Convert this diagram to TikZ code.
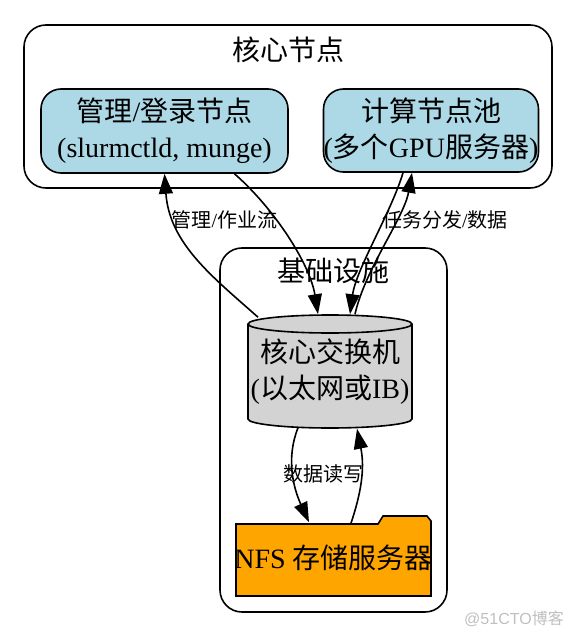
\documentclass[tikz,border=0pt]{standalone}
\usepackage{fontspec}
\setmainfont{Liberation Serif}
\newfontfamily\cjk{Noto Sans CJK SC}
\newfontfamily\wmfont{Liberation Sans}
\newcommand{\zh}[1]{{\cjk #1}}
\usetikzlibrary{arrows.meta,calc}
\definecolor{boxblue}{HTML}{ADD8E6}
\definecolor{switchgray}{HTML}{D3D3D3}
\definecolor{nfsorange}{HTML}{FFA500}

\begin{document}
\begin{tikzpicture}[x=1pt,y=-1pt,line width=1.6pt,
    cluster/.style={draw, rounded corners=22pt},
    box/.style={draw, rounded corners=20pt, fill=boxblue, align=center, inner sep=0pt, font=\fontsize{28}{36}\selectfont},
    plain/.style={align=center, inner sep=0pt, font=\fontsize{28}{36}\selectfont},
    lbl/.style={inner sep=0pt, font=\fontsize{20}{24}\selectfont},
    flow/.style={-{Stealth[inset=0pt,length=20pt,width=14pt]}}]
    \useasboundingbox (0,0) rectangle (576,636);

    % clusters
    \node[cluster, minimum width=528pt, minimum height=163pt] (core) at (288,106.5) {};
    \node[plain] (coretitle) at (288,49.5) {\zh{核心节点}};
    \node[cluster, minimum width=227pt, minimum height=364pt] (infra) at (333.5,430) {};
    \node[plain] (infratitle) at (333,271) {\zh{基础设施}};

    \node[box, minimum width=247pt, minimum height=84pt] (mgmt) at (164.5,131) {\zh{管理}/\zh{登录节点}\\(slurmctld, munge)};
    \node[box, minimum width=215pt, minimum height=83pt] (comp) at (431,130.5) {\zh{计算节点池}\\(\zh{多个}GPU\zh{服务器})};

    % switch and storage
    \fill[switchgray] (248,324) rectangle (412,419);
    \fill[switchgray] (330,419) ellipse [x radius=82, y radius=9];
    \draw (248,324) -- (248,419) arc[start angle=180, end angle=0, x radius=82, y radius=9] -- (412,324);
    \draw[fill=switchgray] (330,324) ellipse [x radius=82, y radius=9];
    \node[plain, minimum width=164pt, minimum height=113pt] (sw) at (330,371.5) {\zh{核心交换机}\\(\zh{以太网或}IB)};

    \draw[fill=nfsorange] (236,524) -- (378,524) -- (383,516) -- (427,516) -- (431,521) -- (431,596) -- (236,596) -- cycle;
    \node[plain, minimum width=195pt, minimum height=76pt] (nfs) at (333.5,558) {NFS \zh{存储服务器}};

    \node[lbl] (lbljob) at (224.5,220) {\zh{管理}/\zh{作业流}};
    \node[lbl] (lbltask) at (445,220) {\zh{任务分发}/\zh{数据}};
    \node[lbl] (lblio) at (323.5,474) {\zh{数据读写}};

    \draw[flow] ($(sw.north)+(-72,3)$) .. controls +(-45,-40) and +(5,70) .. (mgmt.south);
    \draw[flow] ($(mgmt.south)+(70,0)$) .. controls +(40,35) and +(-8,-50) .. ($(sw.north)+(-12,0)$);
    \draw[flow] ($(comp.south)+(-28,0)$) .. controls +(-12,40) and +(6,-45) .. ($(sw.north)+(20,0)$);
    \draw[flow] ($(sw.north)+(25,0)$) .. controls +(10,-45) and +(-8,45) .. ($(comp.south)+(-19,0)$);
    \draw[flow] ($(sw.south)+(-32,-1)$) .. controls +(-12,30) and +(-16,-35) .. ($(nfs.north)+(-24.5,3)$);
    \draw[flow] ($(nfs.north)+(17.5,4)$) .. controls +(10,-30) and +(8,40) .. ($(sw.south)+(27,0)$);

    \node[inner sep=0pt, text=black!25, font=\fontsize{16}{18}\selectfont] (mark) at (514,619) {{\wmfont @51CTO}\zh{博客}};
\end{tikzpicture}
\end{document}
